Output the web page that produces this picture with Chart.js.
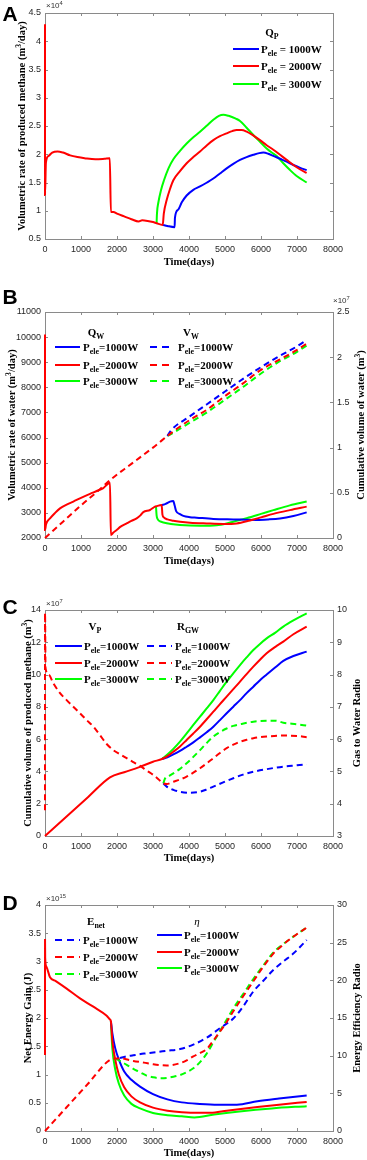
<!DOCTYPE html>
<html>
<head>
<meta charset="utf-8">
<script src="https://cdn.jsdelivr.net/npm/chart.js@4.4.0/dist/chart.umd.min.js"></script>
<style>
  body { margin: 0; background: #fff; }
  #fig { position: relative; width: 367px; height: 1160px; overflow: hidden; background: #fff; }
  canvas { position: absolute; left: 0; }
  .t { position: absolute; white-space: nowrap; line-height: 1; font-family: "Liberation Serif", "Times New Roman", serif; font-weight: bold; font-size: 10.5px; color: #000; }
  .lg { font-size: 11px; }
  .c { transform: translate(-50%, -50%); }
  .r { transform: translate(-50%, -50%) rotate(-90deg); }
  .l { transform: translateY(-50%); }
  .letter { font-family: "Liberation Sans", Arial, sans-serif; font-size: 21px; }
  .exp { font-family: "Liberation Sans", Arial, sans-serif; font-weight: normal; font-size: 8px; color: #333; }
  sub { font-size: 0.72em; vertical-align: -0.45em; line-height: 0; }
  sup { font-size: 0.72em; vertical-align: 0.5em; line-height: 0; }
  .ln { position: absolute; height: 2px; }
</style>
</head>
<body>
<div id="fig">
  <canvas id="chartA" width="367" height="264" style="top:0px"></canvas>
  <canvas id="chartB" width="367" height="273" style="top:290px"></canvas>
  <canvas id="chartC" width="367" height="271" style="top:590px"></canvas>
  <canvas id="chartD" width="367" height="271" style="top:885px"></canvas>
</div>
<script>
// ---- axis ticks ----
const xTicks = [0, 1000, 2000, 3000, 4000, 5000, 6000, 7000, 8000];
const qpTicks = [0.5, 1, 1.5, 2, 2.5, 3, 3.5, 4, 4.5];
const qwTicks = [2000, 3000, 4000, 5000, 6000, 7000, 8000, 9000, 10000, 11000];
const vwTicks = [0, 0.5, 1, 1.5, 2, 2.5];
const vpTicks = [0, 2, 4, 6, 8, 10, 12, 14];
const rgwTicks = [3, 4, 5, 6, 7, 8, 9, 10];
const enetTicks = [0, 0.5, 1, 1.5, 2, 2.5, 3, 3.5, 4];
const etaTicks = [0, 5, 10, 15, 20, 25, 30];

// ---- A: produced methane rate Qp (x1e4 m3/day) ----
const qpRedDays = [0, 1, 25, 100, 200, 350, 500, 700, 900, 1100, 1400, 1650, 1800, 1830, 1900, 2000, 2200, 2400, 2600, 2700, 2850, 3000, 3100, 3270, 3300, 3380, 3470, 3565, 3750, 3935, 4120, 4306, 4500, 4676, 4860, 5046, 5200, 5324, 5460, 5602, 5790, 5972, 6157, 6343, 6530, 6713, 6900, 7090, 7269];
const qpRedVals = [4.3, 1.28, 1.85, 1.97, 2.03, 2.05, 2.03, 1.98, 1.95, 1.93, 1.91, 1.92, 1.93, 0.98, 0.98, 0.95, 0.90, 0.85, 0.81, 0.83, 0.82, 0.80, 0.78, 0.75, 0.95, 1.19, 1.38, 1.54, 1.70, 1.84, 1.95, 2.05, 2.16, 2.25, 2.32, 2.37, 2.41, 2.43, 2.43, 2.40, 2.33, 2.25, 2.16, 2.08, 1.99, 1.90, 1.81, 1.73, 1.67];
const qpBlueDays = [3270, 3400, 3600, 3610, 3700, 3800, 3935, 4120, 4306, 4500, 4676, 4860, 5046, 5230, 5417, 5600, 5787, 5950, 6065, 6200, 6343, 6530, 6713, 6900, 7090, 7269];
const qpBlueVals = [0.75, 0.73, 0.71, 0.88, 1.02, 1.15, 1.27, 1.37, 1.43, 1.50, 1.57, 1.66, 1.75, 1.83, 1.90, 1.95, 1.99, 2.02, 2.03, 2.01, 1.97, 1.92, 1.87, 1.81, 1.76, 1.72];
const qpGreenDays = [3100, 3110, 3150, 3220, 3300, 3430, 3565, 3750, 3935, 4120, 4306, 4500, 4676, 4830, 4954, 5100, 5300, 5417, 5600, 5787, 5972, 6157, 6343, 6435, 6620, 6806, 7000, 7269];
const qpGreenVals = [0.78, 0.95, 1.15, 1.36, 1.53, 1.75, 1.91, 2.06, 2.19, 2.30, 2.40, 2.51, 2.61, 2.68, 2.70, 2.68, 2.63, 2.59, 2.47, 2.34, 2.22, 2.10, 2.01, 1.97, 1.84, 1.72, 1.61, 1.50];

// ---- B: water rate Qw (m3/day) and cumulative water Vw (x1e7 m3) ----
const qwRedDays = [0, 1, 30, 139, 280, 417, 600, 787, 1000, 1250, 1450, 1620, 1805, 1830, 1900, 1990, 2100, 2268, 2400, 2546, 2650, 2731, 2917, 3056, 3100, 3241, 3262, 3300, 3400, 3565, 3750, 4028, 4491, 4954, 5324, 5694, 6000, 6343, 6800, 7269];
const qwRedVals = [10100, 2320, 2550, 2780, 3000, 3180, 3330, 3450, 3600, 3760, 3880, 3990, 4200, 2120, 2220, 2320, 2450, 2580, 2680, 2780, 2900, 3030, 3115, 3250, 3270, 3310, 2930, 2820, 2740, 2690, 2650, 2610, 2580, 2560, 2580, 2700, 2820, 2960, 3110, 3250];
const qwBlueDays = [3241, 3350, 3472, 3565, 3600, 3640, 3750, 3843, 4028, 4213, 4676, 5231, 5880, 6200, 6528, 6900, 7269];
const qwBlueVals = [3310, 3360, 3450, 3470, 3300, 3080, 2950, 2880, 2830, 2810, 2760, 2740, 2720, 2740, 2780, 2880, 3020];
const qwGreenDays = [3083, 3100, 3130, 3200, 3287, 3500, 3750, 4306, 4769, 5046, 5231, 5417, 5602, 6000, 6343, 6800, 7269];
const qwGreenVals = [3260, 2900, 2750, 2660, 2620, 2560, 2520, 2490, 2510, 2580, 2650, 2720, 2790, 2960, 3110, 3300, 3450];
const vwRedDays = [0, 500, 1000, 1500, 1805, 2400, 3000, 3500, 4000, 4500, 5000, 5500, 6000, 6500, 7000, 7269];
const vwRedVals = [0, 0.18, 0.36, 0.53, 0.64, 0.82, 1.00, 1.16, 1.30, 1.42, 1.57, 1.71, 1.86, 1.97, 2.08, 2.15];
const vwBlueDays = [3400, 3500, 4000, 4500, 5000, 5500, 6000, 6500, 7000, 7269];
const vwBlueVals = [1.13, 1.19, 1.34, 1.48, 1.62, 1.76, 1.89, 2.01, 2.12, 2.19];
const vwGreenDays = [3400, 3500, 4000, 4500, 5000, 5500, 6000, 6500, 7000, 7269];
const vwGreenVals = [1.13, 1.15, 1.27, 1.39, 1.53, 1.67, 1.82, 1.95, 2.06, 2.13];

// ---- C: cumulative methane Vp (x1e7 m3) and gas/water ratio Rgw ----
const vpRedDays = [0, 600, 1200, 1805, 2200, 2600, 3000, 3250, 3400, 3565, 3750, 3935, 4120, 4306, 4491, 4676, 4860, 5046, 5231, 5417, 5600, 5787, 5972, 6157, 6400, 6620, 6900, 7269];
const vpRedVals = [0, 1.21, 2.42, 3.63, 3.95, 4.25, 4.60, 4.77, 4.95, 5.22, 5.55, 5.95, 6.35, 6.77, 7.23, 7.70, 8.17, 8.63, 9.10, 9.56, 10.03, 10.49, 10.92, 11.32, 11.72, 12.04, 12.50, 12.97];
const vpBranchDays = [3250, 3400, 3565, 3750, 3935, 4120, 4306, 4491, 4676, 4860, 5046, 5231, 5417, 5600, 5787, 5972, 6157, 6400, 6620, 6900, 7269];
const vpBlueVals = [4.77, 4.88, 5.05, 5.27, 5.53, 5.80, 6.11, 6.43, 6.77, 7.18, 7.60, 8.01, 8.42, 8.85, 9.25, 9.65, 10.00, 10.45, 10.85, 11.15, 11.42];
const vpGreenVals = [4.77, 5.05, 5.40, 5.85, 6.36, 6.88, 7.39, 7.90, 8.42, 8.99, 9.56, 10.08, 10.59, 11.06, 11.52, 11.90, 12.24, 12.60, 12.97, 13.35, 13.79];
const rgwRedDays = [0, 1, 15, 100, 231, 400, 602, 800, 972, 1150, 1343, 1530, 1713, 1898, 2100, 2268, 2450, 2639, 2820, 3009, 3150, 3287, 3380, 3565, 3750, 3935, 4120, 4306, 4491, 4676, 4860, 5046, 5231, 5417, 5600, 5787, 6157, 6620, 7000, 7269];
const rgwRedVals = [3.8, 9.9, 8.2, 8.0, 7.73, 7.45, 7.21, 6.99, 6.80, 6.60, 6.39, 6.12, 5.85, 5.66, 5.52, 5.41, 5.29, 5.17, 5.03, 4.89, 4.76, 4.63, 4.61, 4.68, 4.75, 4.84, 4.96, 5.10, 5.25, 5.41, 5.57, 5.72, 5.83, 5.92, 5.98, 6.03, 6.08, 6.11, 6.10, 6.06];
const rgwBlueDays = [3287, 3380, 3565, 3750, 4028, 4306, 4491, 4676, 4950, 5231, 5500, 5787, 6157, 6620, 7000, 7269];
const rgwBlueVals = [4.63, 4.53, 4.43, 4.37, 4.34, 4.37, 4.44, 4.53, 4.66, 4.79, 4.90, 4.99, 5.07, 5.15, 5.19, 5.22];
const rgwGreenDays = [3287, 3330, 3450, 3565, 3750, 3935, 4120, 4306, 4491, 4676, 4860, 5046, 5231, 5417, 5787, 6157, 6400, 6620, 7000, 7269];
const rgwGreenVals = [4.63, 4.77, 4.86, 4.94, 5.08, 5.25, 5.45, 5.66, 5.88, 6.08, 6.22, 6.33, 6.41, 6.46, 6.54, 6.57, 6.57, 6.51, 6.46, 6.42];

// ---- D: net energy gain Enet (x1e15 J) and energy efficiency ratio eta ----
const enRedDays = [0, 600, 1200, 1805, 1950, 2083, 2250, 2454, 2750, 3009, 3380, 3750, 3935, 4120, 4306, 4491, 4676, 4861, 5046, 5231, 5500, 5787, 6065, 6343, 6620, 6898, 7269];
const enRedVals = [0, 0.42, 0.84, 1.26, 1.28, 1.29, 1.27, 1.24, 1.21, 1.18, 1.16, 1.20, 1.25, 1.32, 1.38, 1.45, 1.60, 1.76, 1.93, 2.12, 2.38, 2.65, 2.91, 3.14, 3.30, 3.44, 3.60];
const enBlueDays = [2083, 2250, 2454, 2750, 3009, 3380, 3750, 4120, 4491, 4861, 5046, 5231, 5500, 5787, 6065, 6343, 6620, 6898, 7269];
const enBlueVals = [1.29, 1.32, 1.34, 1.37, 1.39, 1.42, 1.45, 1.53, 1.65, 1.82, 1.90, 1.99, 2.20, 2.47, 2.66, 2.85, 3.00, 3.14, 3.38];
const enGreenDays = [1950, 2083, 2268, 2454, 2639, 2820, 3009, 3200, 3380, 3565, 3750, 3935, 4120, 4306, 4491, 4676, 4861, 5046, 5231, 5500, 5787, 6065, 6343, 6620, 6898, 7269];
const enGreenVals = [1.28, 1.24, 1.17, 1.10, 1.04, 0.98, 0.95, 0.935, 0.94, 0.96, 0.99, 1.04, 1.11, 1.22, 1.37, 1.57, 1.77, 1.97, 2.17, 2.42, 2.69, 2.93, 3.16, 3.31, 3.44, 3.60];
const etaRedDays = [0, 1, 5, 40, 139, 300, 602, 972, 1343, 1713, 1805, 1830, 1870, 1950, 2050, 2200, 2400, 2640, 3000, 3400, 3800, 4300, 4600, 5050, 5900, 6500, 7269];
const etaRedVals = [10.1, 25.5, 23.0, 21.8, 20.4, 19.9, 18.9, 17.6, 16.5, 15.3, 14.8, 14.6, 12.0, 9.5, 7.5, 5.8, 4.6, 3.8, 3.1, 2.7, 2.5, 2.42, 2.42, 2.7, 3.2, 3.5, 3.85];
const etaBlueDays = [1830, 1870, 1950, 2050, 2200, 2400, 2640, 3000, 3400, 3800, 4300, 4800, 5330, 5900, 6500, 7269];
const etaBlueVals = [14.6, 13.0, 11.0, 9.5, 7.9, 6.8, 5.9, 4.9, 4.2, 3.8, 3.6, 3.5, 3.5, 3.95, 4.3, 4.7];
const etaGreenDays = [1830, 1870, 1950, 2050, 2200, 2400, 2640, 3000, 3400, 3800, 4150, 4700, 5400, 6300, 7269];
const etaGreenVals = [14.6, 11.0, 8.2, 6.3, 4.7, 3.6, 3.0, 2.4, 2.1, 1.95, 1.8, 2.2, 2.6, 3.0, 3.3];

const BLUE = '#0000ff', RED = '#ff0000', GREEN = '#00ff00';
const TICK_FONT = { family: '"Liberation Sans", Arial, sans-serif', size: 9 };

function series(days, vals, color, axisId, dashed) {
    return {
        data: days.map((d, i) => ({ x: d, y: vals[i] })),
        borderColor: color,
        borderWidth: 2,
        borderDash: dashed ? [6, 4] : [],
        pointRadius: 0,
        fill: false,
        clip: false,
        cubicInterpolationMode: 'monotone',
        yAxisID: axisId
    };
}

function yAxis(pos, min, max, ticks, width) {
    return {
        type: 'linear', position: pos, min: min, max: max,
        afterBuildTicks: s => { s.ticks = ticks.map(v => ({ value: v })); },
        afterFit: s => { s.width = width; },
        grid: { display: false, drawTicks: false },
        border: { display: false },
        ticks: { color: '#262626', font: TICK_FONT, padding: 4, callback: v => String(v) }
    };
}

const xAxis = {
    type: 'linear', min: 0, max: 8000,
    afterBuildTicks: s => { s.ticks = xTicks.map(v => ({ value: v })); },
    afterFit: s => { s.height = 25; },
    grid: { display: false, drawTicks: false },
    border: { display: false },
    ticks: { color: '#262626', font: TICK_FONT, padding: 5, maxRotation: 0, callback: v => String(v) }
};

// matlab style box with inward tick marks
const framePlugin = {
    id: 'frame',
    beforeDatasetsDraw(chart) {
        const { ctx, chartArea: a, scales } = chart;
        ctx.save();
        ctx.strokeStyle = '#8a8a8a';
        ctx.lineWidth = 1;
        ctx.strokeRect(Math.round(a.left) + 0.5, Math.round(a.top) + 0.5, Math.round(a.right - a.left), Math.round(a.bottom - a.top));
        ctx.beginPath();
        scales.x.ticks.forEach(t => {
            const px = Math.round(scales.x.getPixelForValue(t.value)) + 0.5;
            ctx.moveTo(px, a.bottom); ctx.lineTo(px, a.bottom - 3);
            ctx.moveTo(px, a.top); ctx.lineTo(px, a.top + 3);
        });
        scales.y.ticks.forEach(t => {
            const py = Math.round(scales.y.getPixelForValue(t.value)) + 0.5;
            ctx.moveTo(a.left, py); ctx.lineTo(a.left + 3, py);
            if (!scales.y1) { ctx.moveTo(a.right, py); ctx.lineTo(a.right - 3, py); }
        });
        if (scales.y1) {
            scales.y1.ticks.forEach(t => {
                const py = Math.round(scales.y1.getPixelForValue(t.value)) + 0.5;
                ctx.moveTo(a.right, py); ctx.lineTo(a.right - 3, py);
            });
        }
        ctx.stroke();
        ctx.restore();
    }
};

function makeChart(id, datasets, scales, padTop, padRight) {
    return new Chart(document.getElementById(id), {
        type: 'line',
        data: { datasets: datasets },
        options: {
            responsive: false,
            animation: false,
            devicePixelRatio: 1,
            layout: { padding: { top: padTop, right: padRight, left: 0, bottom: 0 } },
            plugins: { legend: { display: false }, tooltip: { enabled: false } },
            scales: scales
        },
        plugins: [framePlugin]
    });
}

makeChart('chartA', [
    series(qpRedDays, qpRedVals, RED, 'y'),
    series(qpBlueDays, qpBlueVals, BLUE, 'y'),
    series(qpGreenDays, qpGreenVals, GREEN, 'y')
], { x: xAxis, y: yAxis('left', 0.5, 4.5, qpTicks, 45) }, 13, 34);

makeChart('chartB', [
    series(qwRedDays, qwRedVals, RED, 'y'),
    series(qwBlueDays, qwBlueVals, BLUE, 'y'),
    series(qwGreenDays, qwGreenVals, GREEN, 'y'),
    series(vwRedDays, vwRedVals, RED, 'y1', true),
    series(vwBlueDays, vwBlueVals, BLUE, 'y1', true),
    series(vwGreenDays, vwGreenVals, GREEN, 'y1', true)
], { x: xAxis, y: yAxis('left', 2000, 11000, qwTicks, 45), y1: yAxis('right', 0, 2.5, vwTicks, 34) }, 22, 0);

makeChart('chartC', [
    series(vpRedDays, vpRedVals, RED, 'y'),
    series(vpBranchDays, vpBlueVals, BLUE, 'y'),
    series(vpBranchDays, vpGreenVals, GREEN, 'y'),
    series(rgwRedDays, rgwRedVals, RED, 'y1', true),
    series(rgwBlueDays, rgwBlueVals, BLUE, 'y1', true),
    series(rgwGreenDays, rgwGreenVals, GREEN, 'y1', true)
], { x: xAxis, y: yAxis('left', 0, 14, vpTicks, 45), y1: yAxis('right', 3, 10, rgwTicks, 34) }, 20, 0);

makeChart('chartD', [
    series(enRedDays, enRedVals, RED, 'y', true),
    series(enBlueDays, enBlueVals, BLUE, 'y', true),
    series(enGreenDays, enGreenVals, GREEN, 'y', true),
    series(etaRedDays, etaRedVals, RED, 'y1'),
    series(etaBlueDays, etaBlueVals, BLUE, 'y1'),
    series(etaGreenDays, etaGreenVals, GREEN, 'y1')
], { x: xAxis, y: yAxis('left', 0, 4, enetTicks, 45), y1: yAxis('right', 0, 30, etaTicks, 34) }, 20, 0);

// ---- text overlays (titles, legends) ----
const fig = document.getElementById('fig');
function text(html, x, y, cls) {
    const d = document.createElement('div');
    d.className = 't ' + (cls || '');
    d.style.left = x + 'px';
    d.style.top = y + 'px';
    d.innerHTML = html;
    fig.appendChild(d);
}
function sample(x1, x2, y, color, dashed) {
    const d = document.createElement('div');
    d.className = 'ln';
    d.style.left = x1 + 'px';
    d.style.top = (y - 1) + 'px';
    d.style.width = (x2 - x1) + 'px';
    d.style.background = dashed ? `repeating-linear-gradient(to right, ${color} 0 7px, transparent 7px 12px)` : color;
    fig.appendChild(d);
}
const pele = ['1000W', '2000W', '3000W'];
const colors = [BLUE, RED, GREEN];

// panel A
text('A', 2.6, 2.6, 'letter');
text('&times;10<sup>4</sup>', 46, 2, 'exp');
text('Volumetric rate of produced methane (m<sup>3</sup>/day)', 22, 126, 'r');
text('Time(days)', 189, 262, 'c');
text('Q<sub>P</sub>', 272, 32, 'c lg');
[49, 66, 84].forEach((y, i) => {
    sample(233, 259, y, colors[i], false);
    text('P<sub>ele</sub> = ' + pele[i], 261, y, 'l lg');
});

// panel B
text('B', 2.6, 285.6, 'letter');
text('&times;10<sup>7</sup>', 333, 297, 'exp');
text('Volumetric rate of water (m<sup>3</sup>/day)', 12, 425, 'r');
text('Cumulative volume of water (m<sup>3</sup>)', 361, 425, 'r');
text('Time(days)', 189, 561, 'c');
text('Q<sub>W</sub>', 96, 332, 'c lg');
text('V<sub>W</sub>', 191, 332, 'c lg');
[347, 365, 381].forEach((y, i) => {
    sample(55, 80, y, colors[i], false);
    text('P<sub>ele</sub>=' + pele[i], 83, y, 'l lg');
    sample(150, 170, y, colors[i], true);
    text('P<sub>ele</sub>=' + pele[i], 178, y, 'l lg');
});

// panel C
text('C', 2.6, 595.6, 'letter');
text('&times;10<sup>7</sup>', 46, 600, 'exp');
text('Cumulative volume of produced methane (m<sup>3</sup>)', 28, 723, 'r');
text('Gas to Water Radio', 357, 723, 'r');
text('Time(days)', 189, 858, 'c');
text('V<sub>P</sub>', 95, 626, 'c lg');
text('R<sub>GW</sub>', 188, 626, 'c lg');
[646, 663, 679].forEach((y, i) => {
    sample(55, 82, y, colors[i], false);
    text('P<sub>ele</sub>=' + pele[i], 84, y, 'l lg');
    sample(147, 172, y, colors[i], true);
    text('P<sub>ele</sub>=' + pele[i], 175, y, 'l lg');
});

// panel D
text('D', 2.6, 891.6, 'letter');
text('&times;10<sup>15</sup>', 46, 895, 'exp');
text('Net Energy Gain (J)', 28, 1018, 'r');
text('Energy Efficiency Radio', 357, 1018, 'r');
text('Time(days)', 189, 1153, 'c');
text('E<sub>net</sub>', 96, 921, 'c lg');
text('<i style="font-weight:normal">&eta;</i>', 197, 921, 'c lg');
[940, 957, 974].forEach((y, i) => {
    sample(55, 80, y, colors[i], true);
    text('P<sub>ele</sub>=' + pele[i], 83, y, 'l lg');
});
[935, 952, 968].forEach((y, i) => {
    sample(157, 182, y, colors[i], false);
    text('P<sub>ele</sub>=' + pele[i], 184, y, 'l lg');
});
</script>
</body>
</html>
